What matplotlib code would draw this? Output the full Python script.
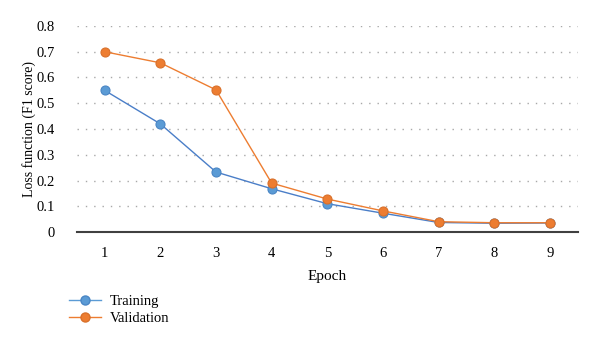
import matplotlib
matplotlib.use("Agg")
import matplotlib.pyplot as plt
from matplotlib.lines import Line2D

epochs = ["1", "2", "3", "4", "5", "6", "7", "8", "9"]
training = [0.55, 0.42, 0.233, 0.168, 0.11, 0.073, 0.037, 0.034, 0.035]
validation = [0.70, 0.657, 0.552, 0.19, 0.128, 0.082, 0.040, 0.036, 0.036]
yticks = [0, 0.1, 0.2, 0.3, 0.4, 0.5, 0.6, 0.7, 0.8]
ytick_labels = ["0", "0.1", "0.2", "0.3", "0.4", "0.5", "0.6", "0.7", "0.8"]

plt.rcParams['font.family'] = ['Liberation Serif', 'DejaVu Serif']

fig = plt.figure(figsize=(6, 3.42), dpi=100)
ax = fig.add_axes([0.128, 0.3216, 0.835, 0.6024])

x = list(range(len(epochs)))
blue = "#5B9BD5"
orange = "#ED7D31"
ax.plot(x, training, color="#4A7EC8", lw=1.0, marker="o", markersize=6.5,
        markerfacecolor=blue, markeredgecolor="#4A86C5", markeredgewidth=0.8,
        label="Training", zorder=3)
ax.plot(x, validation, color=orange, lw=1.0, marker="o", markersize=6.5,
        markerfacecolor=orange, markeredgecolor="#D9702A", markeredgewidth=0.8,
        label="Validation", zorder=4)

ax.set_xlim(-0.5, len(epochs) - 0.5)
ax.set_ylim(0, 0.8)
ax.set_xticks(x)
ax.set_xticklabels(epochs, fontsize=10.5)
ax.set_yticks(yticks)
ax.set_yticklabels(ytick_labels, fontsize=10.5)
ax.tick_params(axis='x', length=0, pad=11)
ax.tick_params(axis='y', length=0, pad=16)

for y in yticks[1:]:
    ax.axhline(y, color="#a8a8a8", lw=1.0, ls=(0, (1, 5)), zorder=1)

for s in ["top", "right", "left"]:
    ax.spines[s].set_visible(False)
ax.spines["bottom"].set_color("#404040")
ax.spines["bottom"].set_linewidth(1.5)

ax.set_xlabel("Epoch", fontsize=11, labelpad=7)
ax.set_ylabel("Loss function (F1 score)", fontsize=10, labelpad=0)

handles = [
    Line2D([], [], color=blue, lw=1.0, marker="o", markersize=6.5,
           markerfacecolor=blue, markeredgecolor="#4A86C5"),
    Line2D([], [], color=orange, lw=1.0, marker="o", markersize=6.5,
           markerfacecolor=orange, markeredgecolor="#D9702A"),
]
fig.legend(handles, ["Training", "Validation"], loc="upper left",
           bbox_to_anchor=(0.105, 0.155), frameon=False, fontsize=10.5,
           handlelength=2.2, handletextpad=0.6, labelspacing=0.25,
           borderaxespad=0)

fig.savefig("out.png", dpi=100)
